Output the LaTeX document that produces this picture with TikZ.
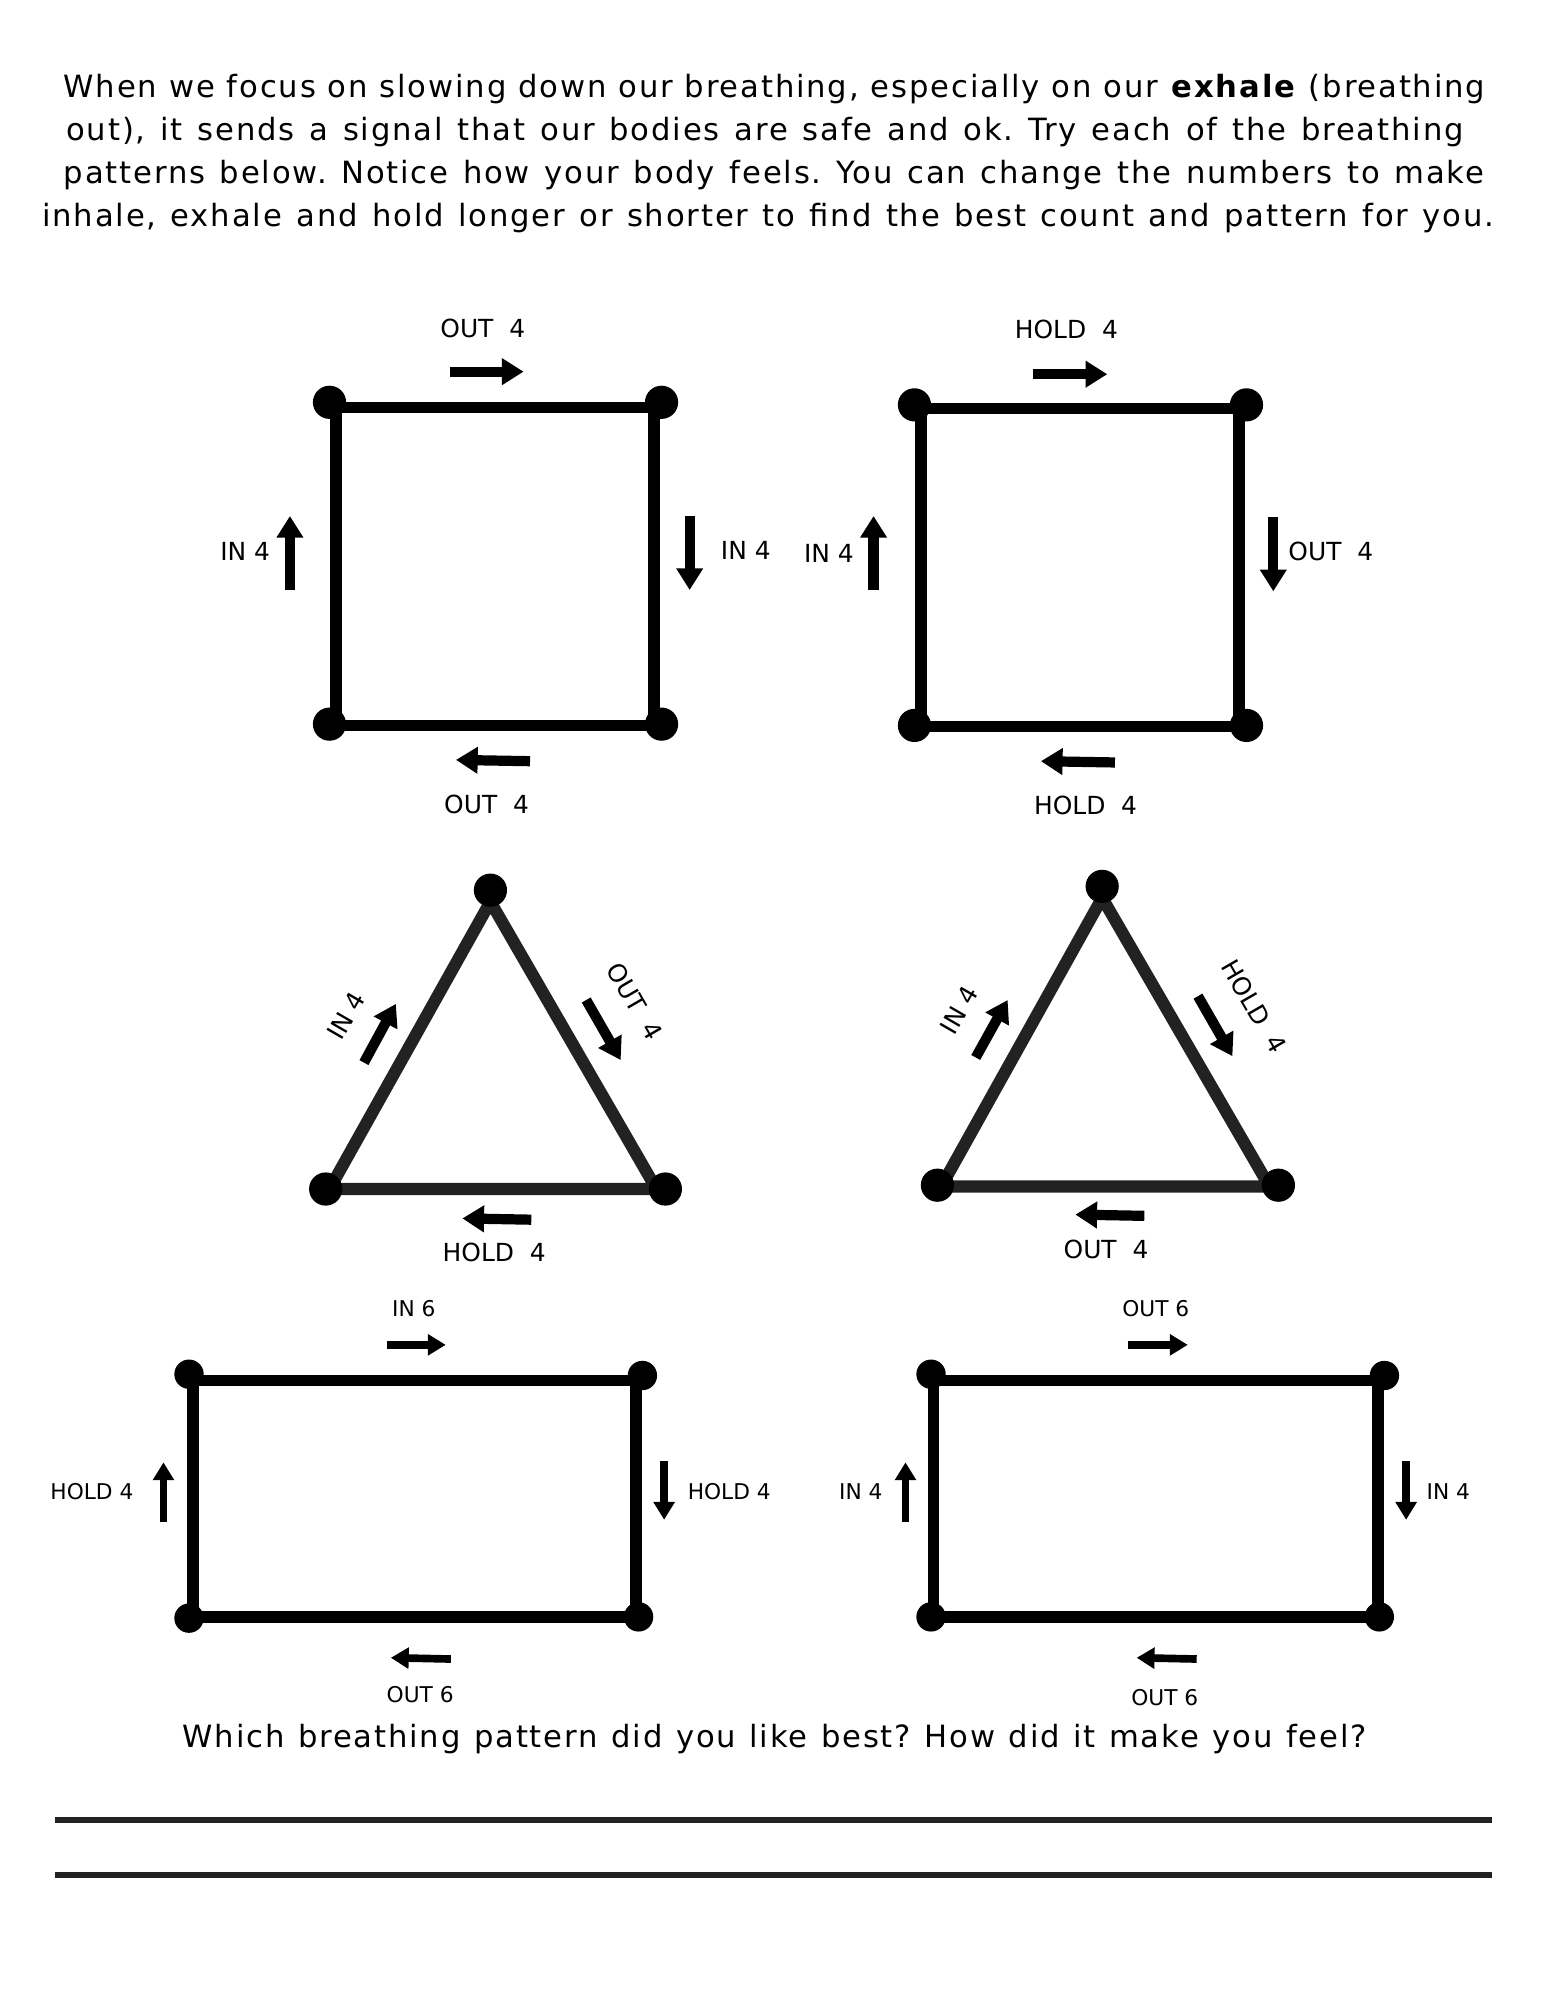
\documentclass[tikz,border=0pt]{standalone}
\usepackage{fontspec}
\setmainfont{DejaVu Sans}
\newfontfamily\headfont[LetterSpace=6]{DejaVu Sans}
\usetikzlibrary{arrows.meta}
\definecolor{darkline}{HTML}{222222}
\frenchspacing
\tikzset{
  sqedge/.style={line width=9pt, black, line join=miter},
  triedge/.style={line width=9.5pt, darkline, line join=miter},
  dotbig/.style={circle, fill=black, minimum size=26pt, inner sep=0pt},
  dotsmall/.style={circle, fill=black, minimum size=23pt, inner sep=0pt},
  bigarrow/.style={line width=8pt, -{Triangle[width=20pt,length=17pt]}},
  smallarrow/.style={line width=6pt, -{Triangle[width=16pt,length=14pt]}},
  lbl/.style={font=\fontsize{19.5}{22}\selectfont, inner sep=0pt},
  slbl/.style={font=\fontsize{17}{19}\selectfont, inner sep=0pt},
  headline/.style={font=\headfont\fontsize{24}{27}\selectfont, inner sep=0pt},
  rule/.style={line width=4.5pt, darkline}
}
\begin{document}
\begin{tikzpicture}[x=1pt,y=-1pt]
\useasboundingbox (0,0) rectangle (1210,1566);
% header
\node[headline] (h1) at (606.5,70) {\makebox[1113pt][s]{When we focus on slowing down our breathing, especially on our \textbf{exhale} (breathing}};
\node[headline] (h2) at (599,103) {\makebox[1094pt][s]{out), it sends a signal that our bodies are safe and ok. Try each of the breathing}};
\node[headline] (h3) at (606,137) {\makebox[1112pt][s]{patterns below. Notice how your body feels. You can change the numbers to make}};
\node[headline] (h4) at (601.5,171) {\makebox[1137pt][s]{inhale, exhale and hold longer or shorter to find the best count and pattern for you.}};

% ---------- square 1 ----------
\coordinate (a1) at (263,319); \coordinate (b1) at (512,319);
\coordinate (c1) at (512,568); \coordinate (d1) at (263,568);
\draw[sqedge] (a1) -- (b1) -- (c1) -- (d1) -- cycle;
\node[dotbig] (da1) at (258,315) {};
\node[dotbig] (db1) at (518,315) {};
\node[dotbig] (dc1) at (518,567) {};
\node[dotbig] (dd1) at (258,567) {};
\coordinate (t1s) at (352,291); \coordinate (t1e) at (410,291);
\draw[bigarrow] (t1s) -- (t1e);
\node[lbl] (t1l) at (378,257) {OUT\ \ 4};
\coordinate (l1s) at (227,462); \coordinate (l1e) at (227,404);
\draw[bigarrow] (l1s) -- (l1e);
\node[lbl] (l1l) at (192,432) {IN\ 4};
\coordinate (r1s) at (540,404); \coordinate (r1e) at (540,462);
\draw[bigarrow] (r1s) -- (r1e);
\node[lbl] (r1l) at (584,431) {IN\ 4};
\coordinate (b1s) at (415,596); \coordinate (b1e) at (357,595);
\draw[bigarrow] (b1s) -- (b1e);
\node[lbl] (b1l) at (381,630) {OUT\ \ 4};

% ---------- square 2 ----------
\coordinate (a2) at (721,320); \coordinate (b2) at (970,320);
\coordinate (c2) at (970,569); \coordinate (d2) at (721,569);
\draw[sqedge] (a2) -- (b2) -- (c2) -- (d2) -- cycle;
\node[dotbig] (da2) at (716,317) {};
\node[dotbig] (db2) at (976,317) {};
\node[dotbig] (dc2) at (976,568) {};
\node[dotbig] (dd2) at (716,568) {};
\coordinate (t2s) at (809,293); \coordinate (t2e) at (867,293);
\draw[bigarrow] (t2s) -- (t2e);
\node[lbl] (t2l) at (835,258) {HOLD\ \ 4};
\coordinate (l2s) at (684,462); \coordinate (l2e) at (684,404);
\draw[bigarrow] (l2s) -- (l2e);
\node[lbl] (l2l) at (649,433) {IN\ 4};
\coordinate (r2s) at (997,405); \coordinate (r2e) at (997,463);
\draw[bigarrow] (r2s) -- (r2e);
\node[lbl] (r2l) at (1042,432) {OUT\ \ 4};
\coordinate (b2s) at (873,597); \coordinate (b2e) at (815,596);
\draw[bigarrow] (b2s) -- (b2e);
\node[lbl] (b2l) at (850,631) {HOLD\ \ 4};

% ---------- triangle 1 ----------
\coordinate (p1) at (384,706); \coordinate (q1) at (258,931); \coordinate (s1) at (514,931);
\draw[triedge] (p1) -- (s1) -- (q1) -- cycle;
\node[dotbig] (dp1) at (384,697) {};
\node[dotbig] (dq1) at (255,931) {};
\node[dotbig] (ds1) at (521,931) {};
\coordinate (tl1s) at (285,832); \coordinate (tl1e) at (310,786);
\draw[bigarrow] (tl1s) -- (tl1e);
\node[lbl, rotate=60] (tl1l) at (271,795) {IN\ 4};
\coordinate (tr1s) at (459,783); \coordinate (tr1e) at (486,830);
\draw[bigarrow] (tr1s) -- (tr1e);
\node[lbl, rotate=-60] (tr1l) at (497,784) {OUT\ \ 4};
\coordinate (tb1s) at (416,955); \coordinate (tb1e) at (362,954);
\draw[bigarrow] (tb1s) -- (tb1e);
\node[lbl] (tb1l) at (387,981) {HOLD\ \ 4};

% ---------- triangle 2 ----------
\coordinate (p2) at (863,703); \coordinate (q2) at (737,929); \coordinate (s2) at (994,929);
\draw[triedge] (p2) -- (s2) -- (q2) -- cycle;
\node[dotbig] (dp2) at (863,694) {};
\node[dotbig] (dq2) at (734,928) {};
\node[dotbig] (ds2) at (1001,928) {};
\coordinate (tl2s) at (764,828); \coordinate (tl2e) at (789,783);
\draw[bigarrow] (tl2s) -- (tl2e);
\node[lbl, rotate=60] (tl2l) at (751,791) {IN\ 4};
\coordinate (tr2s) at (938,780); \coordinate (tr2e) at (965,827);
\draw[bigarrow] (tr2s) -- (tr2e);
\node[lbl, rotate=-60] (tr2l) at (982,788) {HOLD\ \ 4};
\coordinate (tb2s) at (896,952); \coordinate (tb2e) at (842,951);
\draw[bigarrow] (tb2s) -- (tb2e);
\node[lbl] (tb2l) at (866,978) {OUT\ \ 4};

% ---------- rectangle 1 ----------
\coordinate (a3) at (151,1081); \coordinate (b3) at (498,1081);
\coordinate (c3) at (498,1266); \coordinate (d3) at (151,1266);
\draw[sqedge] (a3) -- (b3) -- (c3) -- (d3) -- cycle;
\node[dotsmall] (da3) at (148,1076) {};
\node[dotsmall] (db3) at (503,1077) {};
\node[dotsmall] (dc3) at (500,1266) {};
\node[dotsmall] (dd3) at (148,1267) {};
\coordinate (t3s) at (303,1053); \coordinate (t3e) at (349,1053);
\draw[smallarrow] (t3s) -- (t3e);
\node[slbl] (t3l) at (324,1025) {IN 6};
\coordinate (l3s) at (128,1192); \coordinate (l3e) at (128,1145);
\draw[smallarrow] (l3s) -- (l3e);
\node[slbl] (l3l) at (72,1168) {HOLD 4};
\coordinate (r3s) at (520,1144); \coordinate (r3e) at (520,1190);
\draw[smallarrow] (r3s) -- (r3e);
\node[slbl] (r3l) at (571,1168) {HOLD 4};
\coordinate (b3s) at (353,1299); \coordinate (b3e) at (306,1298);
\draw[smallarrow] (b3s) -- (b3e);
\node[slbl] (b3l) at (329,1327) {OUT 6};

% ---------- rectangle 2 ----------
\coordinate (a4) at (731,1081); \coordinate (b4) at (1079,1081);
\coordinate (c4) at (1079,1266); \coordinate (d4) at (731,1266);
\draw[sqedge] (a4) -- (b4) -- (c4) -- (d4) -- cycle;
\node[dotsmall] (da4) at (729,1076) {};
\node[dotsmall] (db4) at (1084,1077) {};
\node[dotsmall] (dc4) at (1080,1266) {};
\node[dotsmall] (dd4) at (729,1266) {};
\coordinate (t4s) at (883,1053); \coordinate (t4e) at (930,1053);
\draw[smallarrow] (t4s) -- (t4e);
\node[slbl] (t4l) at (905,1025) {OUT 6};
\coordinate (l4s) at (709,1192); \coordinate (l4e) at (709,1145);
\draw[smallarrow] (l4s) -- (l4e);
\node[slbl] (l4l) at (674,1168) {IN 4};
\coordinate (r4s) at (1101,1144); \coordinate (r4e) at (1101,1190);
\draw[smallarrow] (r4s) -- (r4e);
\node[slbl] (r4l) at (1134,1168) {IN 4};
\coordinate (b4s) at (937,1299); \coordinate (b4e) at (890,1298);
\draw[smallarrow] (b4s) -- (b4e);
\node[slbl] (b4l) at (912,1329) {OUT 6};

% ---------- question and lines ----------
\node[headline] (q) at (606.5,1362) {\makebox[927pt][s]{Which breathing pattern did you like best? How did it make you feel?}};
\coordinate (ln1s) at (43,1425); \coordinate (ln1e) at (1168,1425);
\coordinate (ln2s) at (43,1468); \coordinate (ln2e) at (1168,1468);
\draw[rule] (ln1s) -- (ln1e);
\draw[rule] (ln2s) -- (ln2e);
\end{tikzpicture}
\end{document}
